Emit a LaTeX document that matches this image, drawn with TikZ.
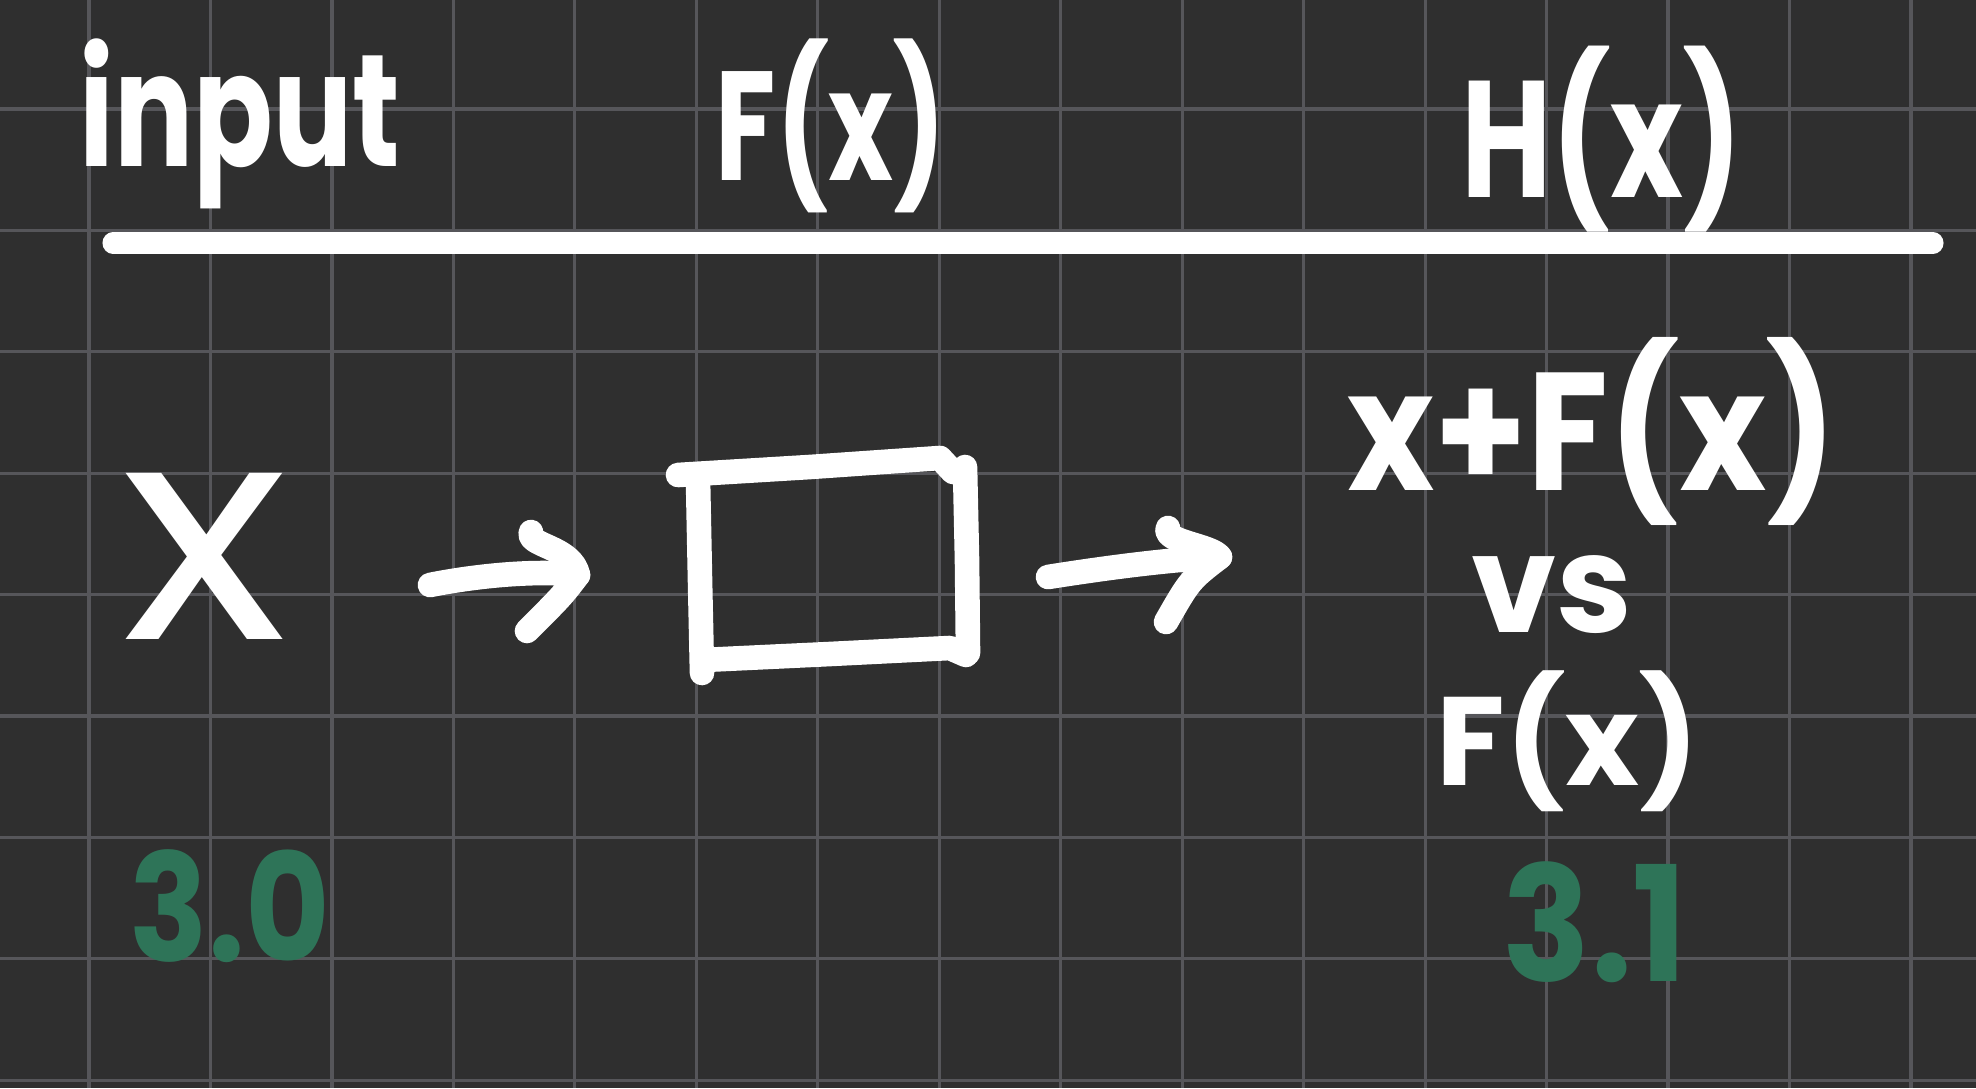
\documentclass[tikz,border=0pt]{standalone}
\usepackage{fontspec}
\usepackage{graphicx}
\setmainfont{Poppins}
\definecolor{bgc}{HTML}{2F2F2F}
\definecolor{gridc}{HTML}{56565A}
\definecolor{inkgreen}{HTML}{2E7458}
\newcommand\hw[3]{\resizebox*{#1}{#2}{\bfseries #3}}
\newcommand\hr[3]{\resizebox*{#1}{#2}{#3}}
\tikzset{
  ink/.style={draw=white, line width=7pt, line cap=round, line join=round},
  rulestroke/.style={draw=white, line width=6pt, line cap=round},
  gridline/.style={draw=gridc, line width=0.9pt},
  wtext/.style={text=white, inner sep=0pt, outer sep=0pt},
  gtext/.style={text=inkgreen, inner sep=0pt, outer sep=0pt}
}
\begin{document}
\begin{tikzpicture}[x=0.01cm,y=-0.01cm]
\useasboundingbox (0,0) rectangle (1976,1088);
\fill[bgc] (0,0) rectangle (1976,1088);
% grid
\foreach \k in {0,...,15}{
  \draw[gridline] ({89+121.46*\k},0) -- ({89+121.46*\k},1088);
}
\foreach \k in {0,...,8}{
  \draw[gridline] (0,{109+121.4*\k}) -- (1976,{109+121.4*\k});
}
% header texts
\node[wtext] (input) at (240,124) {\hw{3.20cm}{1.70cm}{input}};
\node[wtext] (fx) at (831,126) {\hw{2.30cm}{1.74cm}{F(x)}};
\node[wtext] (hx) at (1602,139) {\hw{2.81cm}{1.86cm}{H(x)}};
% rule
\coordinate (rl) at (113,243);
\coordinate (rr) at (1933,243);
\draw[rulestroke] (rl) -- (rr);
% body
\node[wtext] (xin) at (205,556) {\hr{1.66cm}{1.66cm}{x}};
% box (hand drawn)
\coordinate (bx) at (833,565);
\draw[ink] (678,475) -- (810,467) -- (940,458) -- (953,472);
\draw[ink] (965,467) -- (967,560) -- (968,653);
\draw[ink] (703,660) -- (830,654) -- (950,648) -- (966,655);
\draw[ink] (698,480) -- (700,580) -- (702,673);
% arrow 1
\coordinate (a1s) at (430,585);
\coordinate (a1e) at (578,575);
\coordinate (a1u) at (531,532);
\coordinate (a1d) at (527,631);
\draw[ink] (a1s) .. controls (480,575) and (540,570) .. (a1e);
\draw[ink] (a1u) .. controls (526,546) and (572,546) .. (a1e) .. controls (562,596) .. (a1d);
% arrow 2
\coordinate (a2s) at (1048,577);
\coordinate (a2e) at (1220,557);
\coordinate (a2u) at (1168,528);
\coordinate (a2d) at (1166,622);
\draw[ink] (a2s) .. controls (1105,568) and (1165,560) .. (a2e);
\draw[ink] (a2u) .. controls (1162,542) and (1212,545) .. (a2e) .. controls (1190,580) .. (a2d);
% outputs
\node[wtext] (sum) at (1592,431) {\hw{4.89cm}{1.88cm}{x+F(x)}};
\node[wtext] (vs) at (1552,595) {\hw{1.61cm}{0.78cm}{vs}};
\node[wtext] (fx2) at (1568,741) {\hw{2.62cm}{1.41cm}{F(x)}};
% versions
\node[gtext] (v30) at (230,906) {\hw{2.00cm}{1.13cm}{3.0}};
\node[gtext] (v31) at (1595,922) {\hw{1.84cm}{1.21cm}{3.1}};
\end{tikzpicture}
\end{document}
